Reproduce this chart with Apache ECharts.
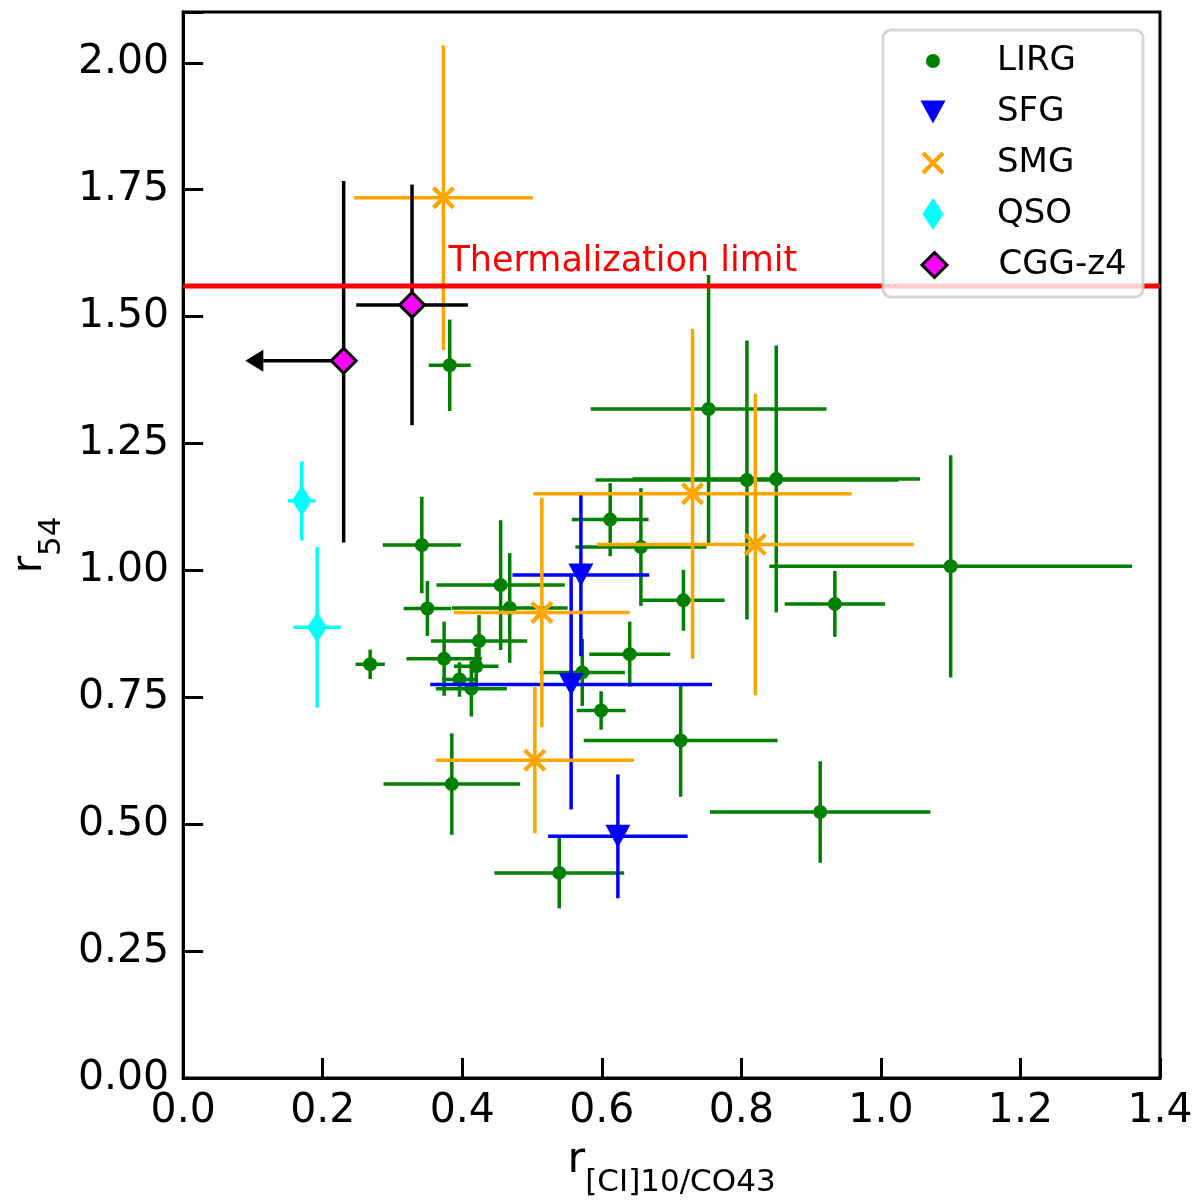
<!DOCTYPE html>
<html>
<head>
<meta charset="utf-8">
<title>r54 vs r[CI]10/CO43</title>
<script src="https://cdn.jsdelivr.net/npm/echarts@6/dist/echarts.min.js"></script>
<style>
  html, body { margin: 0; padding: 0; background: #fff; }
  #chart { width: 1200px; height: 1203px; }
</style>
</head>
<body>
<div id="chart"></div>
<script>
// -------------------------------------------------------------
// Data: [x, y, xerr, yerrLow, yerrHigh]
// -------------------------------------------------------------
const lirg = [
    [0.382, 1.404, 0.030, 0.090, 0.090],
    [0.753, 1.318, 0.169, 0.264, 0.264],
    [0.808, 1.178, 0.217, 0.275, 0.275],
    [0.850, 1.180, 0.206, 0.263, 0.263],
    [0.612, 1.100, 0.055, 0.072, 0.072],
    [0.342, 1.050, 0.056, 0.095, 0.095],
    [0.656, 1.046, 0.094, 0.116, 0.116],
    [1.100, 1.008, 0.260, 0.219, 0.219],
    [0.455, 0.971, 0.092, 0.128, 0.128],
    [0.717, 0.941, 0.059, 0.060, 0.060],
    [0.934, 0.934, 0.072, 0.065, 0.065],
    [0.350, 0.925, 0.034, 0.054, 0.054],
    [0.468, 0.926, 0.083, 0.108, 0.108],
    [0.424, 0.861, 0.069, 0.051, 0.051],
    [0.640, 0.835, 0.058, 0.064, 0.064],
    [0.374, 0.826, 0.054, 0.073, 0.073],
    [0.268, 0.815, 0.021, 0.029, 0.029],
    [0.420, 0.811, 0.032, 0.036, 0.036],
    [0.572, 0.799, 0.061, 0.066, 0.066],
    [0.396, 0.785, 0.025, 0.034, 0.034],
    [0.413, 0.767, 0.051, 0.055, 0.055],
    [0.599, 0.724, 0.035, 0.038, 0.038],
    [0.713, 0.665, 0.139, 0.111, 0.111],
    [0.385, 0.579, 0.098, 0.100, 0.100],
    [0.913, 0.524, 0.158, 0.100, 0.100],
    [0.539, 0.404, 0.093, 0.070, 0.070]
];

const sfg = [
    [0.570, 0.991, 0.098, 0.160, 0.160],
    [0.556, 0.775, 0.202, 0.246, 0.214],
    [0.623, 0.476, 0.100, 0.122, 0.122]
];

const smg = [
    [0.373, 1.734, 0.128, 0.300, 0.300],
    [0.730, 1.151, 0.228, 0.325, 0.325],
    [0.820, 1.051, 0.227, 0.297, 0.297],
    [0.514, 0.917, 0.126, 0.226, 0.226],
    [0.504, 0.626, 0.142, 0.144, 0.144]
];

const qso = [
    [0.170, 1.137, 0.020, 0.078, 0.078],
    [0.192, 0.888, 0.034, 0.158, 0.158]
];

const cgg = [
    [0.230, 1.413, 0.000, 0.358, 0.354],
    [0.328, 1.523, 0.080, 0.237, 0.237]
];

// upper limit in x: [x, y, arrow tip x]
const cggLimit = [
    [0.230, 1.413, 0.089]
];

const thermalLimit = 1.56;
const thermalLabel = [[0.383, 1.56]];

const xMin = 0, xMax = 1.4, xStep = 0.2;
const yMin = 0, yMax = 2.1, yStep = 0.25;

// -------------------------------------------------------------
// Helpers
// -------------------------------------------------------------
const FONT = 'DejaVu Sans';
const BAR_W = 3.5;
const triDown = 'path://M0,0L10,0L5,9.2Z';
const xMark = 'path://M0,1.3L1.3,0L5,3.7L8.7,0L10,1.3L6.3,5L10,8.7L8.7,10L5,6.3L1.3,10L0,8.7L3.7,5Z';

function errorBars(color) {
    return function (params, api) {
        var x = api.value(0), y = api.value(1);
        var ex = api.value(2), eyLo = api.value(3), eyHi = api.value(4);
        var style = { stroke: color, lineWidth: BAR_W };
        var children = [];
        if (ex > 0) {
            var a = api.coord([x - ex, y]), b = api.coord([x + ex, y]);
            children.push({ type: 'line', shape: { x1: a[0], y1: a[1], x2: b[0], y2: b[1] }, style: style });
        }
        var c = api.coord([x, y - eyLo]), d = api.coord([x, y + eyHi]);
        children.push({ type: 'line', shape: { x1: c[0], y1: c[1], x2: d[0], y2: d[1] }, style: style });
        return { type: 'group', children: children };
    };
}

function arrowItem(params, api) {
    var p = api.coord([api.value(0), api.value(1)]);
    var tip = api.coord([api.value(2), api.value(1)]);
    var headLen = 18, headHalf = 11;
    return {
        type: 'group',
        children: [
            { type: 'line', shape: { x1: p[0], y1: p[1], x2: tip[0] + headLen, y2: tip[1] },
              style: { stroke: '#000', lineWidth: BAR_W } },
            { type: 'polygon', shape: { points: [[tip[0], tip[1]], [tip[0] + headLen, tip[1] - headHalf], [tip[0] + headLen, tip[1] + headHalf]] },
              style: { fill: '#000' } }
        ]
    };
}

function xy(arr) { return arr.map(function (d) { return [d[0], d[1]]; }); }

function barSeries(data, color, z) {
    return { type: 'custom', data: data, encode: { x: 0, y: 1 }, renderItem: errorBars(color), z: z, silent: true };
}

// legends: one component per entry so every icon keeps its own size
const legendTextLeft = 997, legendIconX = 933, legendTop = 61, legendStep = 51;
function legendEntry(i, name, icon, w, h, extra) {
    var lg = {
        data: [{ name: name, icon: icon }],
        orient: 'vertical',
        left: legendIconX - w / 2,
        top: legendTop + legendStep * i - Math.max(h, 34) / 2,
        itemWidth: w,
        itemHeight: h,
        padding: 0,
        selectedMode: false,
        z: 60,
        textStyle: {
            fontSize: 34, fontFamily: FONT, color: '#000',
            padding: [0, 0, 0, legendTextLeft - (legendIconX + w / 2 + 5)]
        }
    };
    if (extra) lg.itemStyle = extra;
    return lg;
}

// -------------------------------------------------------------
// Chart
// -------------------------------------------------------------
const chart = echarts.init(document.getElementById('chart'));

const option = {
    animation: false,
    backgroundColor: '#fff',
    grid: {
        left: 179, right: 40, top: 12, bottom: 125,
        show: true, borderColor: '#000', borderWidth: 3, backgroundColor: '#fff'
    },
    xAxis: {
        type: 'value', min: xMin, max: xMax, interval: xStep,
        name: '{r|r}{s|[CI]10/CO43}',
        nameLocation: 'middle', nameGap: 61,
        nameTextStyle: {
            rich: {
                r: { fontSize: 43, lineHeight: 43, fontFamily: FONT, color: '#000', verticalAlign: 'top' },
                s: { fontSize: 31, lineHeight: 31, fontFamily: FONT, color: '#000', verticalAlign: 'top', padding: [28, 0, 0, 0] }
            }
        },
        axisLine: { lineStyle: { color: '#000', width: 3 } },
        axisTick: { inside: true, length: 20, lineStyle: { color: '#000', width: 3 } },
        axisLabel: {
            fontSize: 41, fontFamily: FONT, color: '#000', margin: 13,
            formatter: function (v) { return v.toFixed(1); }
        },
        splitLine: { show: false }
    },
    yAxis: {
        type: 'value', min: yMin, max: yMax, interval: yStep,
        name: '{r|r}{s|54}',
        nameLocation: 'middle', nameGap: 121, nameRotate: 90,
        nameTextStyle: {
            rich: {
                r: { fontSize: 43, lineHeight: 43, fontFamily: FONT, color: '#000', verticalAlign: 'top' },
                s: { fontSize: 31, lineHeight: 31, fontFamily: FONT, color: '#000', verticalAlign: 'top', padding: [28, 0, 0, 0] }
            }
        },
        axisLine: { lineStyle: { color: '#000', width: 3 } },
        axisTick: { inside: true, length: 20, lineStyle: { color: '#000', width: 3 } },
        axisLabel: {
            fontSize: 41, fontFamily: FONT, color: '#000', margin: 14,
            formatter: function (v) { return v > 2.001 ? '' : v.toFixed(2); }
        },
        splitLine: { show: false }
    },
    legend: [
        legendEntry(0, 'LIRG', 'circle', 14, 14),
        legendEntry(1, 'SFG', triDown, 25, 23),
        legendEntry(2, 'SMG', xMark, 23, 23),
        legendEntry(3, 'QSO', 'diamond', 21, 32),
        legendEntry(4, 'CGG-z4', 'diamond', 25, 25, { borderColor: '#000', borderWidth: 3 })
    ],
    graphic: [{
        type: 'rect', z: 50, silent: true,
        shape: { x: 883, y: 30, width: 260, height: 267, r: 8 },
        style: { fill: 'rgba(255,255,255,0.8)', stroke: 'rgba(204,204,204,0.8)', lineWidth: 3 }
    }],
    series: [
        barSeries(lirg, '#008000', 2),
        { name: 'LIRG', type: 'scatter', data: xy(lirg), symbol: 'circle', symbolSize: 14,
          itemStyle: { color: '#008000', opacity: 1 }, z: 3 },

        barSeries(sfg, '#0000ff', 4),
        { name: 'SFG', type: 'scatter', data: xy(sfg), symbol: triDown, symbolSize: [25, 23],
          itemStyle: { color: '#0000ff', opacity: 1 }, z: 5 },

        barSeries(smg, '#ffa500', 6),
        { name: 'SMG', type: 'scatter', data: xy(smg), symbol: xMark, symbolSize: 23,
          itemStyle: { color: '#ffa500', opacity: 1 }, z: 7 },

        barSeries(qso, '#00ffff', 8),
        { name: 'QSO', type: 'scatter', data: xy(qso), symbol: 'diamond', symbolSize: [20, 31],
          itemStyle: { color: '#00ffff', opacity: 1 }, z: 9 },

        barSeries(cgg, '#000000', 10),
        { type: 'custom', data: cggLimit, encode: { x: 0, y: 1 }, renderItem: arrowItem, z: 10, silent: true },
        { name: 'CGG-z4', type: 'scatter', data: xy(cgg), symbol: 'diamond', symbolSize: 25,
          itemStyle: { color: '#ff00ff', borderColor: '#000', borderWidth: 3, opacity: 1 }, z: 11 },

        { type: 'line', data: [[xMin, thermalLimit], [xMax, thermalLimit]], showSymbol: false, silent: true,
          lineStyle: { color: '#ff0000', width: 5 }, z: 12 },
        { type: 'custom', data: thermalLabel, encode: { x: 0, y: 1 }, z: 12, silent: true,
          renderItem: function (params, api) {
              var p = api.coord([api.value(0), api.value(1)]);
              return { type: 'text', style: {
                  text: 'Thermalization limit', x: p[0] - 2, y: p[1] - 24,
                  fill: '#ff0000', fontSize: 35, fontFamily: FONT,
                  align: 'left', verticalAlign: 'middle'
              } };
          } }
    ]
};

chart.setOption(option);
window.addEventListener('resize', function () { chart.resize(); });
</script>
</body>
</html>
